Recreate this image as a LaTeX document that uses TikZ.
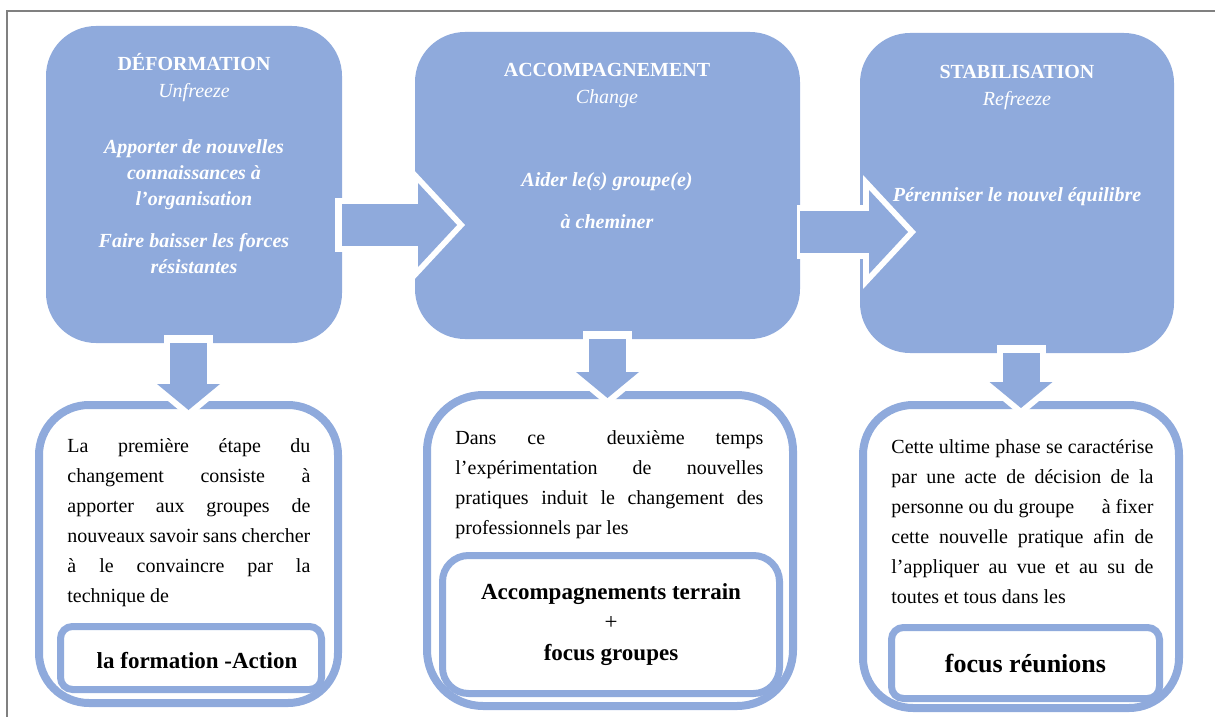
\documentclass[tikz,border=0pt]{standalone}
\usepackage{fontspec}
\setmainfont{Liberation Serif}
\usetikzlibrary{positioning,fit,arrows.meta}
\definecolor{boxblue}{RGB}{143,170,220}

\begin{document}
\begin{tikzpicture}[x=0.5pt, y=0.5pt,
    topbox/.style={fill=boxblue, rounded corners=25pt, inner sep=0pt, outer sep=0pt},
    notebox/.style={draw=boxblue, fill=white, line width=4pt, rounded corners=25pt, inner sep=0pt},
    keybox/.style={draw=boxblue, fill=white, line width=3.5pt, rounded corners=6pt, inner sep=0pt},
    keytext/.style={inner sep=0pt, align=center, font=\fontsize{11.5}{15.25}\selectfont\bfseries},
    head/.style={anchor=north, text=white, inner sep=0pt, align=center, font=\fontsize{10}{13.5}\selectfont},
    desc/.style={anchor=north, text=white, inner sep=0pt, align=center, font=\fontsize{10}{13}\selectfont\bfseries\itshape},
    para/.style={anchor=north west, inner sep=0pt, align=justify, font=\fontsize{10}{15}\selectfont,
        execute at begin node={\tolerance=10000\relax\hyphenpenalty=10000\relax}},
    hrim/.style={draw=white, line width=27pt, -{Triangle[length=26.5pt, width=57pt, line width=0pt]}},
    hbody/.style={draw=boxblue, line width=21pt, -{Triangle[length=19.5pt, width=42pt, line width=0pt]}},
    vrim/.style={draw=white, line width=24.5pt, -{Triangle[length=20pt, width=48pt, line width=0pt]}},
    vbody/.style={draw=boxblue, line width=18.5pt, -{Triangle[length=13pt, width=31.5pt, line width=0pt]}}]
    \useasboundingbox (0,0) rectangle (1215,-717);
    \draw[gray, line width=0.75pt] (7,-717) -- (7,-11) -- (1215,-11);

    % the three phases
    \node[topbox, fit={(46,-26) (342,-343)}] (dfm) {};
    \node[topbox, fit={(415,-32) (800,-339)}] (acc) {};
    \node[topbox, fit={(860,-33) (1174,-353)}] (stb) {};

    % what happens in each phase
    \node[notebox, fit={(39,-405) (338,-703)}] (dfmnote) {};
    \node[notebox, rounded corners=28pt, fit={(427,-395) (793,-706)}] (accnote) {};
    \node[notebox, fit={(863,-405) (1179,-708)}] (stbnote) {};

    \node[keybox, fit={(60.5,-626.5) (321.5,-689.5)}] (dfmkey) {};
    \node[keybox, rounded corners=13pt, fit={(442.5,-555.5) (779.5,-693.5)}] (acckey) {};
    \node[keybox, fit={(891.5,-627.5) (1159.5,-698.5)}] (stbkey) {};

    \node[keytext] (dfmkeytext) at ([xshift=3pt, yshift=-1.5pt]dfmkey.center) {la formation -Action};
    \node[keytext] (acckeytext) at (acckey.center) {Accompagnements terrain\\{\mdseries +}\\focus groupes};
    \node[keytext, font=\fontsize{13}{15}\selectfont\bfseries] (stbkeytext) at (stbkey.center) {focus réunions};

    % arrows
    \draw[hrim, shorten <=-3.5pt, shorten >=-25pt] (dfm.east |- 0,-225) -- (acc.west |- 0,-225);
    \draw[hbody, shorten >=-21pt] (dfm.east |- 0,-225) -- (acc.west |- 0,-225);
    \draw[hrim, shorten <=-1.5pt, shorten >=-28pt] (acc.east |- 0,-232) -- (stb.west |- 0,-232);
    \draw[hbody, shorten >=-24pt] (acc.east |- 0,-232) -- (stb.west |- 0,-232);

    \draw[vrim, shorten <=-4pt, shorten >=-8.5pt] (dfmnote.north |- dfm.south) -- (dfmnote.north);
    \draw[vbody, shorten >=-4.5pt] (dfmnote.north |- dfm.south) -- (dfmnote.north);
    \draw[vrim, shorten <=-4pt, shorten >=-7.5pt] (acc.south) -- (acc.south |- accnote.north);
    \draw[vbody, shorten >=-3.5pt] (acc.south) -- (acc.south |- accnote.north);
    \draw[vrim, shorten <=-4pt, shorten >=-7.5pt] (stbnote.north |- stb.south) -- (stbnote.north);
    \draw[vbody, shorten >=-3.5pt] (stbnote.north |- stb.south) -- (stbnote.north);

    % texts on the blue boxes
    \node[head] (dfmtitle) at (194,-53) {\bfseries DÉFORMATION\\\itshape Unfreeze};
    \node[head] (acctitle) at (607,-63) {\bfseries ACCOMPAGNEMENT\\\itshape Change};
    \node[head] (stbtitle) at (1017,-65) {\bfseries STABILISATION\\\itshape Refreeze};

    \node[desc] (dfmdesc) at (194,-139) {Apporter de nouvelles\\connaissances à\\l’organisation\\[8pt]Faire baisser les forces\\résistantes};
    \node[desc] (accdesc) at (607,-172) {Aider le(s) groupe(e)\\[8pt]à cheminer};
    \node[desc] (stbdesc) at (1017,-187) {Pérenniser le nouvel équilibre};

    % texts on the white boxes
    \node[para, text width=121.5pt] (dfmpara) at (67,-438) {La première étape du\linebreak changement consiste à\linebreak apporter aux groupes de\linebreak nouveaux savoir sans chercher\linebreak à le convaincre par la\linebreak technique de};
    \node[para, text width=154pt] (accpara) at (455,-430) {Dans ce\ \ deuxième temps\linebreak l’expérimentation de nouvelles\linebreak pratiques induit le changement des\linebreak professionnels par les};
    \node[para, text width=131pt] (stbpara) at (891,-439) {Cette ultime phase se caractérise\linebreak par une acte de décision de la\linebreak personne ou du groupe\hfill\ à fixer\linebreak cette nouvelle pratique afin de\linebreak l’appliquer au vue et au su de\linebreak toutes et tous dans les};
\end{tikzpicture}
\end{document}
